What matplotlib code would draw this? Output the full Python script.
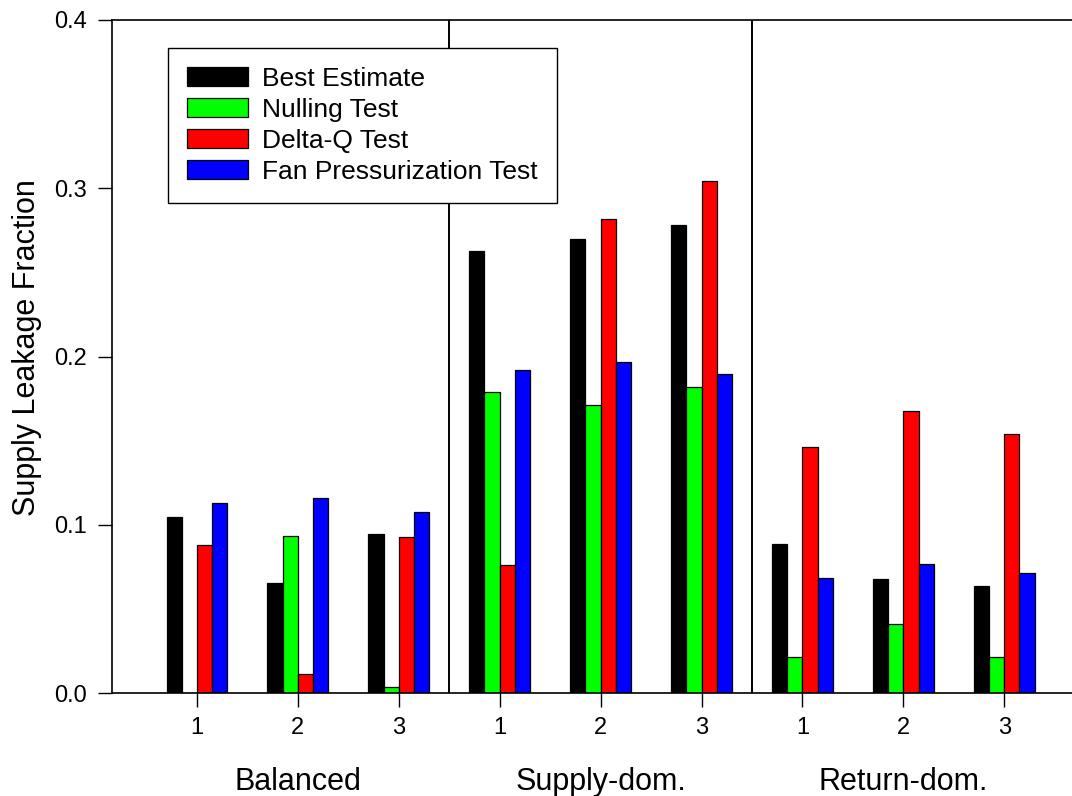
import matplotlib
matplotlib.use("Agg")
import matplotlib.pyplot as plt
import numpy as np

plt.rcParams['font.family'] = ['Liberation Sans', 'DejaVu Sans']

groups = ["Balanced", "Supply-dom.", "Return-dom."]
tick_labels = ["1", "2", "3", "1", "2", "3", "1", "2", "3"]
series_names = ["Best Estimate", "Nulling Test", "Delta-Q Test", "Fan Pressurization Test"]
best_estimate = [0.1044, 0.0655, 0.0946, 0.2626, 0.2699, 0.2782, 0.0883, 0.0677, 0.0635]
nulling_test = [0.0, 0.0933, 0.0036, 0.1790, 0.1713, 0.1820, 0.0211, 0.0411, 0.0211]
delta_q_test = [0.0879, 0.0113, 0.0929, 0.0760, 0.2818, 0.3044, 0.1463, 0.1679, 0.1540]
fan_press_test = [0.1127, 0.1159, 0.1077, 0.1917, 0.1968, 0.1895, 0.0681, 0.0764, 0.0714]
colors = ["#000000", "#00FF00", "#FF0000", "#0000FF"]

fig = plt.figure(figsize=(10.72, 7.96), dpi=100)
ax = fig.add_axes([112/1072, 1 - 693/796, 1 - 112/1072, (693-20)/796])

x = np.arange(1, 10)
w = 0.151
all_series = [best_estimate, nulling_test, delta_q_test, fan_press_test]
for i, (vals, c, name) in enumerate(zip(all_series, colors, series_names)):
    ax.bar(x + (i - 1.5) * w, vals, width=w, color=c, edgecolor="black",
           linewidth=0.9, label=name, zorder=2)

ax.set_xlim(1 - 85/100.9, 1 + 875/100.9)
ax.set_ylim(0, 0.4)
ax.set_yticks([0.0, 0.1, 0.2, 0.3, 0.4])
ax.set_yticklabels(["0.0", "0.1", "0.2", "0.3", "0.4"])
ax.set_xticks(x)
ax.set_xticklabels(tick_labels)
ax.tick_params(axis='both', direction='out', length=10, width=1, labelsize=17, colors='black')
ax.tick_params(axis='x', pad=7)
ax.tick_params(axis='y', pad=8)

for s in ['left', 'bottom', 'top']:
    ax.spines[s].set_linewidth(1.2)
ax.spines['right'].set_visible(False)

for sep in [3.5, 6.5]:
    ax.axvline(sep, color='black', linewidth=1.4, zorder=3)

ax.set_ylabel("Supply Leakage Fraction", fontsize=22)
ax.yaxis.set_label_coords(-0.073, 0.513)

for gi, g in enumerate(groups):
    ax.text(2 + 3 * gi, -97/673, g, transform=ax.get_xaxis_transform(), ha='center',
            va='baseline', fontsize=22, clip_on=False)

leg = ax.legend(loc='upper left', bbox_to_anchor=(56/960, 1 - 28/673), fontsize=19,
                frameon=True, fancybox=False, framealpha=1, edgecolor='black',
                handlelength=2.3, handleheight=0.72, labelspacing=0.26,
                borderpad=0.72, handletextpad=0.55, borderaxespad=0)
leg.get_frame().set_linewidth(1.0)

fig.savefig("out.png", dpi=100)
